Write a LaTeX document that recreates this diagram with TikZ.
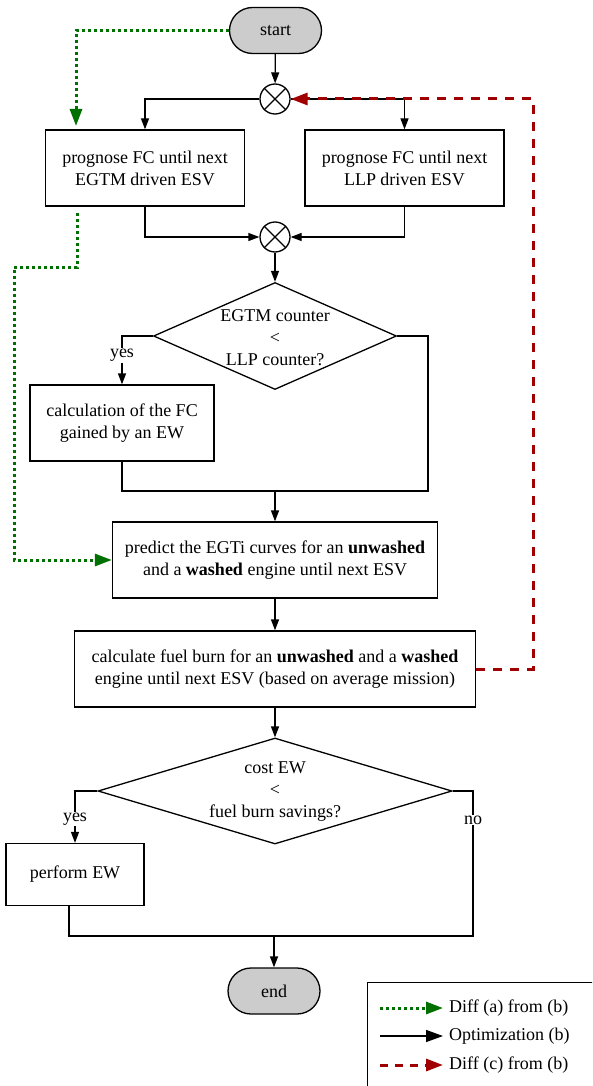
\documentclass[tikz,border=0pt]{standalone}
\usepackage{fontspec}
\setmainfont{Liberation Serif}
\usetikzlibrary{arrows.meta,shapes.geometric}
\definecolor{dgreen}{RGB}{0,112,0}
\definecolor{dred}{RGB}{160,0,0}
\begin{document}
\begin{tikzpicture}[x=1pt,y=-1pt, font=\fontsize{18}{22}\selectfont,
 box/.style={draw, line width=1.3pt, minimum height=76pt, align=center, inner sep=0pt},
 term/.style={draw, line width=1.3pt, fill=gray!40, rounded corners=23pt, minimum width=92pt, minimum height=46pt, inner sep=0pt},
 junc/.style={draw, circle, line width=1.3pt, minimum size=30pt, inner sep=0pt},
 dec/.style={draw, diamond, line width=1.3pt, inner sep=0pt},
 arr/.style={line width=1.3pt, -{Triangle[length=11pt,width=8pt]}},
 ln/.style={line width=1.3pt},
 grn/.style={dgreen, line width=3pt, dash pattern=on 3pt off 3pt, -{Triangle[length=17pt,width=12pt]}},
 rd/.style={dred, line width=3pt, dash pattern=on 9pt off 8pt, -{Triangle[length=17pt,width=12pt]}},
 lbl/.style={fill=white, inner sep=1pt}]
\useasboundingbox (0,0) rectangle (592,1086);
\clip (0,0) rectangle (592,1086);

% nodes
\node[term] (start) at (275.5,30.5) {start};
\node[junc] (c1) at (275,99) {};
\node[box, minimum width=199pt] (b1) at (145,168) {prognose FC until next\\EGTM driven ESV};
\node[box, minimum width=199pt] (b2) at (404.5,168) {prognose FC until next\\LLP driven ESV};
\node[junc] (c2) at (275,237) {};
\node[dec, minimum width=243pt, minimum height=107pt] (d1) at (275,336) {};
\node[align=center, inner sep=0pt] (d1t) at (275,338) {EGTM counter\\<\\LLP counter?};
\node[box, minimum width=184pt] (b3) at (122,423) {calculation of the FC\\gained by an EW};
\node[box, minimum width=325pt] (b4) at (275,560) {predict the EGTi curves for an \textbf{unwashed}\\and a \textbf{washed} engine until next ESV};
\node[box, minimum width=401pt] (b5) at (275,669) {calculate fuel burn for an \textbf{unwashed} and a \textbf{washed}\\engine until next ESV (based on average mission)};
\node[dec, minimum width=354pt, minimum height=106pt] (d2) at (275,791) {};
\node[align=center, inner sep=0pt] (d2t) at (275,792) {cost EW\\<\\fuel burn savings?};
\node[box, minimum width=138pt, minimum height=62pt] (b6) at (75,874.5) {perform EW};
\node[term] (end) at (274,991) {end};

% crosses in junctions
\draw[ln] (c1.north west) -- (c1.south east) (c1.north east) -- (c1.south west);
\draw[ln] (c2.north west) -- (c2.south east) (c2.north east) -- (c2.south west);

% black connectors
\draw[arr] (start) -- (c1);
\draw[arr] (c1.west) -| (b1.north);
\draw[arr] (c1.east) -| (b2.north);
\draw[arr] (b1.south) |- (c2.west);
\draw[arr] (b2.south) |- (c2.east);
\draw[arr] (c2) -- (d1);
\draw[arr] (d1.west) -| node[lbl, pos=0.70] {yes} (b3.north);
\coordinate (j1) at (275,491);
\coordinate (r1) at (428,491);
\draw[ln] (d1.east) -| (r1) -- (b3.south |- r1) -- (b3.south);
\draw[arr] (j1) -- (b4);
\draw[arr] (b4) -- (b5);
\draw[arr] (b5) -- (d2);
\draw[arr] (d2.west) -| node[lbl, pos=0.77] {yes} (b6.north);
\coordinate (p1) at (69,936);
\coordinate (r3) at (473,936);
\coordinate (j2) at (274,936);
\draw[ln] (d2.east) -| node[lbl, pos=0.6] {no} (r3) -- (p1) -- (b6.south -| p1);
\draw[arr] (j2) -- (end);

% green dotted connectors
\coordinate (g1) at (76,126);
\draw[grn] (start.west) -| (g1);
\coordinate (g2) at (77,213);
\coordinate (g3) at (14,267);
\draw[grn] (g2) |- (g3) |- (b4.west);

% red dashed connector
\coordinate (r2) at (533,99);
\draw[rd] (b5.east) -| (r2) -- (c1.east);

% legend
\node[draw, line width=1.3pt, minimum width=250pt, minimum height=130pt, anchor=north west, inner sep=0pt] (leg) at (366.5,981.5) {};
\coordinate (la1) at (380,1008); \coordinate (lb1) at (443,1008);
\coordinate (la2) at (380,1036); \coordinate (lb2) at (443,1036);
\coordinate (la3) at (380,1065); \coordinate (lb3) at (443,1065);
\draw[grn] (la1) -- (lb1);
\draw[line width=1.3pt, -{Triangle[length=17pt,width=12pt]}] (la2) -- (lb2);
\draw[rd, dash pattern=on 8pt off 7pt] (la3) -- (lb3);
\node[anchor=west, inner sep=0pt] (lt1) at (449,1008) {Diff (a) from (b)};
\node[anchor=west, inner sep=0pt] (lt2) at (449,1036) {Optimization (b)};
\node[anchor=west, inner sep=0pt] (lt3) at (449,1065) {Diff (c) from (b)};
\end{tikzpicture}
\end{document}
